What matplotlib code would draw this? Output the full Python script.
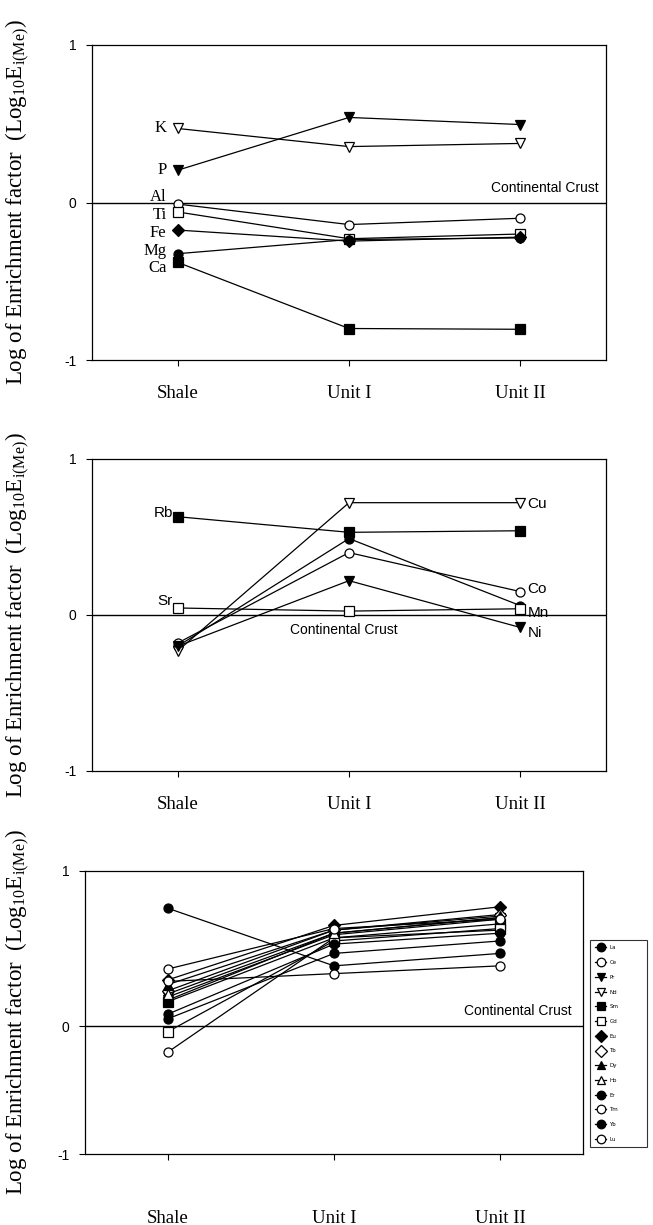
import matplotlib.pyplot as plt
import numpy as np

units = ['Shale', 'Unit I', 'Unit II']
x = np.arange(len(units))

# major elements
K = [0.47, 0.355, 0.375]
P = [0.205, 0.54, 0.495]
Al = [-0.01, -0.14, -0.10]
Ti = [-0.06, -0.23, -0.20]
Fe = [-0.175, -0.245, -0.22]
Mg = [-0.325, -0.235, -0.225]
Ca = [-0.38, -0.80, -0.805]

# trace elements
Rb = [0.63, 0.53, 0.54]
Mn = [-0.20, 0.49, 0.06]
Sr = [0.045, 0.025, 0.04]
Cu = [-0.23, 0.72, 0.72]
Co = [-0.18, 0.40, 0.15]
Ni = [-0.20, 0.22, -0.08]

# rare earth elements
La = [0.76, 0.39, 0.47]
Ce = [-0.20, 0.57, 0.62]
Pr = [0.17, 0.60, 0.70]
Nd = [0.19, 0.59, 0.69]
Sm = [0.16, 0.57, 0.66]
Gd = [-0.04, 0.55, 0.63]
Eu = [0.30, 0.65, 0.77]
Tb = [0.23, 0.62, 0.72]
Dy = [0.27, 0.62, 0.71]
Ho = [0.21, 0.60, 0.70]
Er = [0.08, 0.53, 0.60]
Tm = [0.29, 0.34, 0.39]
Yb = [0.05, 0.47, 0.55]
Lu = [0.37, 0.63, 0.69]

serif = 'Liberation Serif'
sans = 'Liberation Sans'
ylab = 'Log of Enrichment factor  (Log$_{\\mathregular{10}}$E$_{\\mathregular{i(Me)}}$)'

W, H = 653, 1225
fig = plt.figure(figsize=(W / 100, H / 100), dpi=100)


def box(l, t, r, b):
    return [l / W, 1 - b / H, (r - l) / W, (b - t) / H]


def line(ax, vals, m, filled, label=None):
    ax.plot(x, vals, color='k', lw=0.9, marker=m, ms=6.5,
            mfc='k' if filled else 'white', mec='k', mew=0.9, label=label)


def setup(ax, labx, xpad=14):
    ax.set_xlim(-0.5, 2.5)
    ax.set_ylim(-1, 1)
    ax.set_xticks(x)
    ax.set_xticklabels(units, fontfamily=serif, fontsize=13.5)
    ax.set_yticks([-1, 0, 1])
    ax.set_yticklabels(['-1', '0', '1'], fontfamily=sans, fontsize=10)
    ax.tick_params(axis='x', direction='out', length=4, width=0.8, pad=xpad)
    ax.tick_params(axis='y', direction='out', length=4, width=0.8, pad=7)
    for s in ax.spines.values():
        s.set_linewidth(0.9)
    ax.axhline(0, color='k', lw=1.0, zorder=1)
    ax.set_ylabel(ylab, fontfamily=serif, fontsize=16.5)
    ax.yaxis.set_label_coords(labx, 0.5)


# --- major elements ---
ax1 = fig.add_axes(box(92, 45, 606, 360))
setup(ax1, -0.117)
major = [('K', K, 'v', False, 0), ('P', P, 'v', True, 0),
         ('Al', Al, 'o', False, 5), ('Ti', Ti, 's', False, -2),
         ('Fe', Fe, 'D', True, -2), ('Mg', Mg, 'o', True, 2),
         ('Ca', Ca, 's', True, -4)]
for name, vals, m, f, dy in major:
    line(ax1, vals, m, f)
    ax1.annotate(name, (x[0], vals[0]), xytext=(-8, dy), textcoords='offset points',
                 ha='right', va='center', fontfamily=serif, fontsize=12)
ax1.text(0.985, 0.09, 'Continental Crust', transform=ax1.get_yaxis_transform(),
         ha='right', va='center', fontfamily=sans, fontsize=10)

# --- trace elements ---
ax2 = fig.add_axes(box(92, 459, 606, 771))
setup(ax2, -0.117)
line(ax2, Rb, 's', True)
line(ax2, Mn, 'o', True)
line(ax2, Sr, 's', False)
line(ax2, Cu, 'v', False)
line(ax2, Co, 'o', False)
line(ax2, Ni, 'v', True)
ax2.annotate('Rb', (x[0], Rb[0]), xytext=(-3, 3), textcoords='offset points',
             ha='right', va='center', fontfamily=sans, fontsize=11)
ax2.annotate('Sr', (x[0], Sr[0]), xytext=(-4, 5), textcoords='offset points',
             ha='right', va='center', fontfamily=sans, fontsize=11)
for name, vals, dy in [('Cu', Cu, -1), ('Co', Co, 2), ('Mn', Mn, -5), ('Ni', Ni, -4)]:
    ax2.annotate(name, (x[2], vals[2]), xytext=(5, dy), textcoords='offset points',
                 ha='left', va='center', fontfamily=sans, fontsize=11)
ax2.text(0.97, -0.095, 'Continental Crust', ha='center', va='center',
         fontfamily=sans, fontsize=10)

# --- rare earth elements (lower half of the axis is compressed) ---
ax3 = fig.add_axes(box(85, 871, 583, 1154))
ax3.set_yscale('function', functions=(lambda y: np.where(y < 0, y * 0.82, y),
                                      lambda y: np.where(y < 0, y / 0.82, y)))
setup(ax3, -0.107, xpad=36)
ree = [('La', La, 'o', True), ('Ce', Ce, 'o', False), ('Pr', Pr, 'v', True),
       ('Nd', Nd, 'v', False), ('Sm', Sm, 's', True), ('Gd', Gd, 's', False),
       ('Eu', Eu, 'D', True), ('Tb', Tb, 'D', False), ('Dy', Dy, '^', True),
       ('Ho', Ho, '^', False), ('Er', Er, 'o', True), ('Tm', Tm, 'o', False),
       ('Yb', Yb, 'o', True), ('Lu', Lu, 'o', False)]
for name, vals, m, f in ree:
    line(ax3, vals, m, f, label=name)
ax3.text(0.978, 0.1, 'Continental Crust', transform=ax3.get_yaxis_transform(),
         ha='right', va='center', fontfamily=sans, fontsize=10)
leg = ax3.legend(loc='center left', bbox_to_anchor=(1.014, 0.39, 0.114, 0),
                 mode='expand', fontsize=4, handlelength=2.0, handletextpad=0.6,
                 labelspacing=1.75, markerscale=0.95, frameon=True, fancybox=False,
                 borderpad=0.9, borderaxespad=0)
leg.get_frame().set_edgecolor('k')
leg.get_frame().set_linewidth(0.8)

fig.savefig('out.png', dpi=100)
